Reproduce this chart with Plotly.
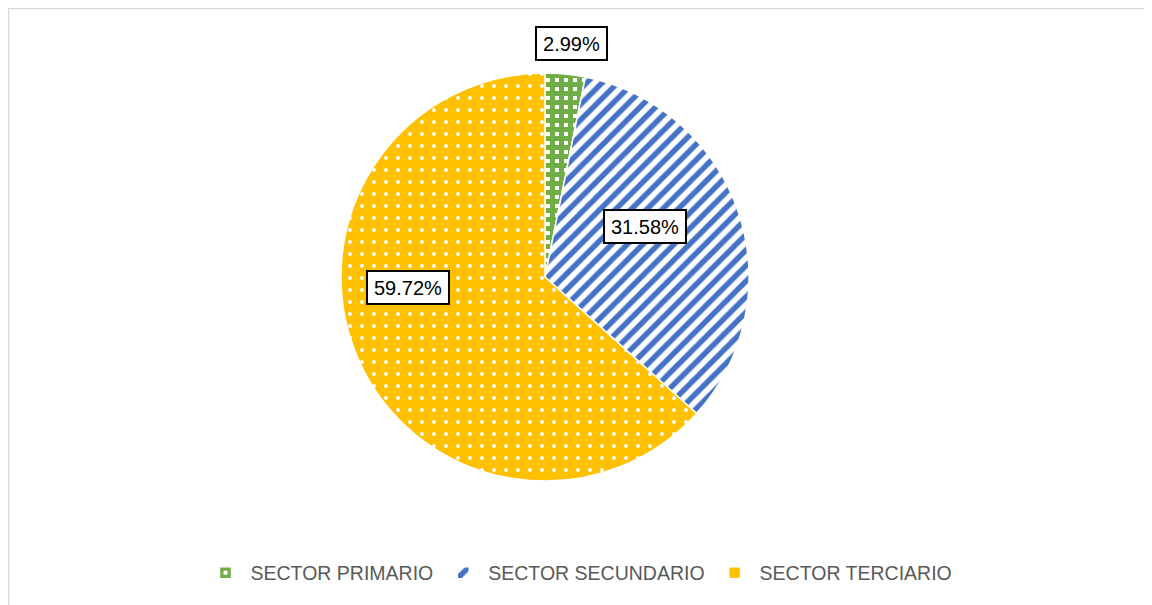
import plotly.graph_objects as go

sectors = ["SECTOR PRIMARIO", "SECTOR SECUNDARIO", "SECTOR TERCIARIO"]
shares = [2.99, 31.58, 59.72]
label_texts = ["2.99%", "31.58%", "59.72%"]

colors = ["#70AD47", "#4472C4", "#FFC000"]

W, H = 1152, 605
OFF = 8  # page body margin offset
cx, cy, r = 545 - OFF, 277 - OFF, 204

fig = go.Figure()
fig.add_trace(go.Pie(
    labels=sectors,
    values=shares,
    sort=False,
    direction="clockwise",
    rotation=0,
    textinfo="none",
    hoverinfo="label+value",
    marker=dict(
        colors=colors,
        line=dict(color="white", width=1.5),
        pattern=dict(
            shape=["+", "/", "."],
            fgcolor=["#70AD47", "#4472C4", "white"],
            bgcolor=["white", "white", "#FFC000"],
            fgopacity=1,
            fillmode="overlay",
            size=[9, 11, 12],
            solidity=[0.8, 0.5, 0.08],
        ),
    ),
    domain=dict(x=[(cx - r) / W, (cx + r) / W], y=[(H - cy - r) / H, (H - cy + r) / H]),
))

label_pos = [(571, 44), (645, 226), (408, 287)]
for t, (px, py) in zip(label_texts, label_pos):
    fig.add_annotation(
        x=(px - OFF) / W, y=1 - (py - OFF) / H, xref="paper", yref="paper",
        xanchor="center", yanchor="middle",
        text=t, showarrow=False,
        font=dict(family="Liberation Sans, Arial", size=20, color="black"),
        bgcolor="white", bordercolor="black", borderwidth=2, borderpad=3,
        width=len(t) * 11 + 8, height=25,
    )

fig.add_shape(type="rect", xref="paper", yref="paper",
              x0=0.6 / W, x1=1.02, y0=-0.02, y1=1 - 0.6 / H,
              line=dict(color="#D9D9D9", width=1.5), fillcolor="rgba(0,0,0,0)")

fig.update_layout(
    width=W, height=H,
    margin=dict(l=0, r=0, t=0, b=0),
    paper_bgcolor="white",
    plot_bgcolor="white",
    showlegend=True,
    legend=dict(
        orientation="h", x=(579 - OFF) / W, xanchor="center", y=1 - (573 - OFF) / H, yanchor="middle",
        font=dict(family="Liberation Sans, Arial", size=19.5, color="#595959"),
        itemwidth=40, traceorder="normal",
    ),
)

fig.write_html("out.html")
